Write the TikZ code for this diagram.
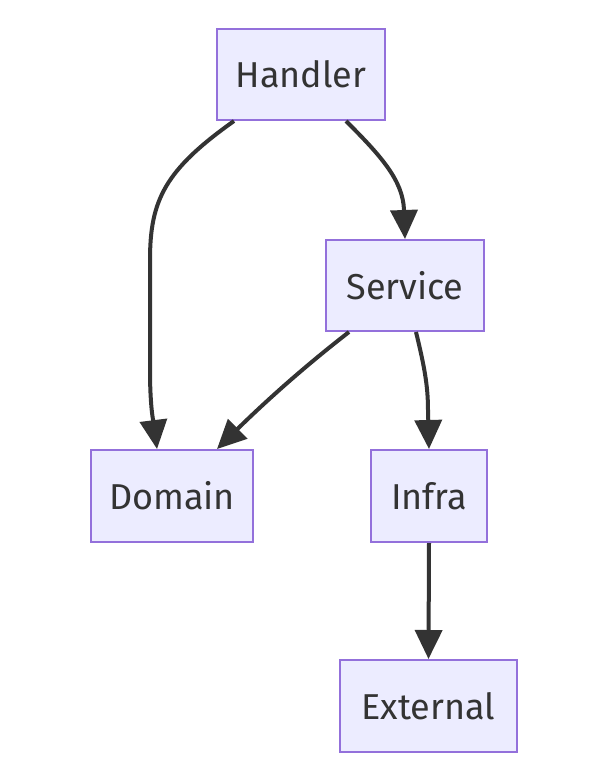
\documentclass[tikz,border=0pt]{standalone}
\usepackage{fontspec}
\setmainfont{Fira Sans}
\usetikzlibrary{arrows.meta}
\definecolor{boxfill}{HTML}{ECECFF}
\definecolor{boxline}{HTML}{9370DB}
\definecolor{edgegray}{HTML}{333333}
\begin{document}
\begin{tikzpicture}[x=1pt,y=-1pt]
\path[use as bounding box] (0,0) rectangle (607,772);
\tikzstyle{box}=[draw=boxline, fill=boxfill, line width=2pt, align=center, inner sep=0pt, text=edgegray, font=\fontsize{36}{42}\selectfont]
\tikzstyle{link}=[draw=edgegray, line width=4pt, -{Triangle[length=29pt,width=27pt]}]

\node[box, minimum width=168pt, minimum height=91pt] (handler) at (301,74.5) {Handler};
\node[box, minimum width=158pt, minimum height=91pt] (service) at (405,285.5) {Service};
\node[box, minimum width=162pt, minimum height=92pt] (domain) at (172,496) {Domain};
\node[box, minimum width=116pt, minimum height=92pt] (infra) at (429,496) {Infra};
\node[box, minimum width=177pt, minimum height=92pt] (external) at (428.5,706) {External};

\draw[link] ([xshift=-67pt]handler.south) .. controls (165,170) and (150,200) .. (150,260) -- (150,370) .. controls (150,410) and (154,425) .. ([xshift=-15pt]domain.north);
\draw[link] ([xshift=45pt]handler.south) .. controls (380,155) and (403,180) .. (404,210) -- (service.north);
\draw[link] ([xshift=-56pt]service.south) .. controls (300,370) and (262,405) .. ([xshift=45pt]domain.north);
\draw[link] ([xshift=11pt]service.south) .. controls (424,365) and (428,385) .. (428,410) -- (infra.north);
\draw[link] (infra.south) -- (external.north);
\end{tikzpicture}
\end{document}
